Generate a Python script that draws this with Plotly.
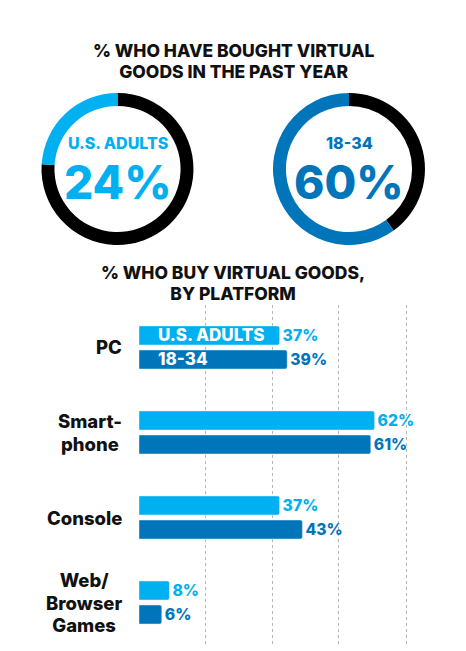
import plotly.graph_objects as go

# ---- data ----
donut_labels = ["U.S. ADULTS", "18-34"]
donut_values = [24, 60]

platforms = ["PC", "Smartphone", "Console", "Web/Browser Games"]
platform_labels = ["PC", "Smart-<br>phone", "Console", "Web/<br>Browser<br>Games"]
adults = [37, 62, 37, 8]
young = [39, 61, 43, 6]
series_names = ["U.S. ADULTS", "18-34"]

LIGHT = "#00B0F0"
DARK = "#0075BA"
FONT = "Inter"
WT = 800

W, H = 466, 651

def px(x):
    return x / W

def py(y):
    return 1 - y / H

def sized(text, size):
    """wrap each line of text in a span with a given font size"""
    return "<br>".join(f"<span style='font-size:{size}px'>{t}</span>" for t in text.split("<br>"))

fig = go.Figure()

# ---- donuts ----
donut_colors = [LIGHT, DARK]
donut_centers = [117.5, 349]
R = 76
for lab, val, col, cx in zip(donut_labels, donut_values, donut_colors, donut_centers):
    fig.add_trace(go.Pie(
        values=[100 - val, val],
        marker=dict(colors=["#000000", col], line=dict(width=0)),
        hole=0.83, sort=False, direction="clockwise", rotation=0,
        textinfo="none", hoverinfo="skip", showlegend=False,
        domain=dict(x=[px(cx - R), px(cx + R)], y=[py(169 + R), py(169 - R)]),
    ))
    fig.add_annotation(x=px(cx), y=py(142.5), xref="paper", yref="paper",
                       xanchor="center", yanchor="middle",
                       text=lab, showarrow=False,
                       font=dict(family=FONT, size=16, color=col, weight=WT))
    fig.add_annotation(x=px(cx), y=py(182), xref="paper", yref="paper",
                       xanchor="center", yanchor="middle",
                       text=f"{val}%", showarrow=False,
                       font=dict(family=FONT, size=46, color=col, weight=WT))

# ---- bars ----
for name, vals, col in zip(series_names, [adults, young], [LIGHT, DARK]):
    fig.add_trace(go.Bar(
        y=platforms, x=vals, orientation="h", name=name,
        marker=dict(color=col, cornerradius=2),
        text=[f"{v}%" for v in vals], textposition="outside",
        textfont=dict(family=FONT, size=16.5, color=col, weight=WT),
        cliponaxis=False, hoverinfo="skip", showlegend=False,
        xaxis="x", yaxis="y",
    ))

# in-bar series labels on PC bars
for name, shift in zip(series_names, [12, -12]):
    fig.add_annotation(x=4.6, y=platforms[0], xref="x", yref="y", yshift=shift,
                       text=name, showarrow=False, xanchor="left", yanchor="middle",
                       font=dict(family=FONT, size=17, color="white", weight=WT))

# category labels (centered lines, right edge near axis)
for cat, lab in zip(platforms, platform_labels):
    fig.add_annotation(x=px(124), y=cat, xref="paper", yref="y",
                       text=sized(lab, 18.5), showarrow=False,
                       xanchor="right", yanchor="middle", align="center",
                       font=dict(family=FONT, size=17.4, color="#111111", weight=WT))

# titles
fig.add_annotation(x=0.5, y=py(61), xref="paper", yref="paper",
                   xanchor="center", yanchor="middle", align="center",
                   text=sized("% WHO HAVE BOUGHT VIRTUAL<br>GOODS IN THE PAST YEAR", 17.5),
                   showarrow=False,
                   font=dict(family=FONT, size=16.4, color="#111111", weight=WT))
fig.add_annotation(x=0.5, y=py(283), xref="paper", yref="paper",
                   xanchor="center", yanchor="middle", align="center",
                   text=sized("% WHO BUY VIRTUAL GOODS,<br>BY PLATFORM", 17.5),
                   showarrow=False,
                   font=dict(family=FONT, size=16.4, color="#111111", weight=WT))

scale = 3.8  # px per percent
fig.update_layout(
    width=W, height=H,
    margin=dict(l=0, r=0, t=0, b=0),
    paper_bgcolor="white", plot_bgcolor="white",
    barmode="group", bargap=0.435, bargroupgap=0.208,
    xaxis=dict(domain=[px(139), 1], range=[0, (W - 139) / scale],
               tickvals=[17.4, 35.0, 52.6, 70.3], showticklabels=False,
               showgrid=True, gridcolor="#b5b5b5", griddash="dot", gridwidth=1,
               zeroline=False, showline=False, fixedrange=True),
    yaxis=dict(domain=[py(645), py(305)], autorange="reversed",
               showticklabels=False, showgrid=False, zeroline=False,
               showline=False, fixedrange=True),
)

fig.write_html("out.html", config={"displayModeBar": False},
               post_script="document.body.style.margin='0';")
